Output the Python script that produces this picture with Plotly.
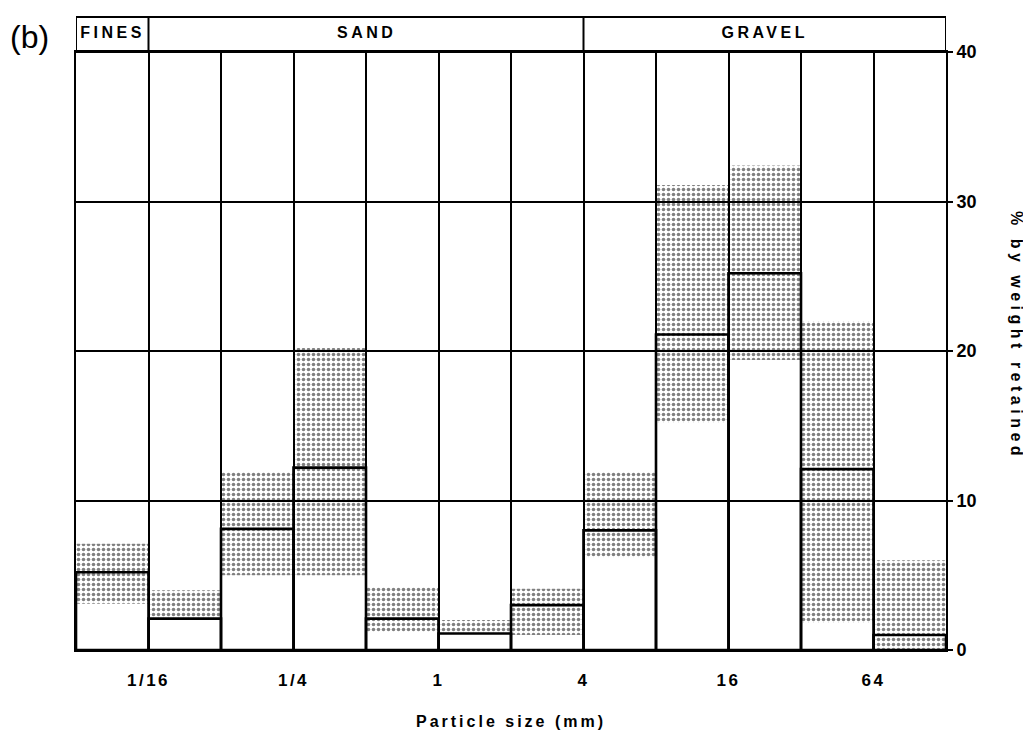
import plotly.graph_objects as go

# Bins in log2(mm): lower edges from 1/32 mm to 64 mm (each bin one doubling)
bin_lower = [-5, -4, -3, -2, -1, 0, 1, 2, 3, 4, 5, 6]
range_min = [3.1, 2.0, 5.0, 5.0, 1.2, 1.1, 1.0, 6.2, 15.2, 19.4, 1.8, 0.0]
range_max = [7.1, 4.0, 11.9, 20.2, 4.2, 2.0, 4.1, 11.9, 31.1, 32.4, 22.0, 6.0]
mean_val = [5.2, 2.1, 8.1, 12.2, 2.1, 1.1, 3.0, 8.0, 21.1, 25.2, 12.1, 1.0]

tick_pos = [-4, -2, 0, 2, 4, 6]
tick_text = ["1/16", "1/4", "1", "4", "16", "64"]
y_ticks = [0, 10, 20, 30, 40]

header_labels = ["FINES", "SAND", "GRAVEL"]
header_edges = [-5, -4, 2, 7]

centers = [b + 0.5 for b in bin_lower]
FONT = "Liberation Sans, Arial, sans-serif"

fig = go.Figure()
fig.add_trace(go.Bar(
    x=centers, y=[mx - mn for mn, mx in zip(range_min, range_max)], base=range_min,
    width=1,
    marker=dict(color="rgba(0,0,0,0)", line=dict(width=0),
                pattern=dict(shape=".", fgcolor="black", bgcolor="rgba(0,0,0,0)",
                             size=5, solidity=0.4)),
    hoverinfo="skip", showlegend=False))
fig.add_trace(go.Bar(
    x=centers, y=mean_val, width=1,
    marker=dict(color="rgba(0,0,0,0)", line=dict(width=2.6, color="black")),
    showlegend=False))

shapes = [dict(type="rect", xref="x", yref="paper", x0=header_edges[0], x1=header_edges[-1],
               y0=1, y1=1.0585, line=dict(color="black", width=2))]
for e in header_edges[1:-1]:
    shapes.append(dict(type="line", xref="x", yref="paper", x0=e, x1=e, y0=1, y1=1.0585,
                       line=dict(color="black", width=2)))

annotations = []
for lab, a, b in zip(header_labels, header_edges[:-1], header_edges[1:]):
    annotations.append(dict(text=f"<b>{lab}</b>", x=(a + b) / 2, xref="x", y=1.033, yref="paper",
                            xanchor="center", yanchor="middle", showarrow=False,
                            font=dict(size=16, family=FONT, color="black")))
annotations.append(dict(text="(b)", x=-0.053, y=1.025, xref="paper", yref="paper", showarrow=False,
                        xanchor="center", yanchor="middle",
                        font=dict(size=32, family=FONT, color="black")))
annotations.append(dict(text="<b>% by weight retained</b>", x=1.081, y=0.526, xref="paper", yref="paper",
                        showarrow=False, textangle=90, xanchor="center", yanchor="middle",
                        font=dict(size=16, family=FONT, color="black")))

# page body has an 8px default margin; shrink the figure so the plot lands where the reference is
fig.update_layout(
    width=1023, height=722,
    margin=dict(l=68, r=85, t=44, b=80, autoexpand=False),
    paper_bgcolor="white", plot_bgcolor="white",
    barmode="overlay",
    shapes=shapes, annotations=annotations,
    xaxis=dict(range=[-5, 7], tickvals=tick_pos, ticktext=tick_text, automargin=False,
               showgrid=True, gridcolor="black", gridwidth=1.5, zeroline=False,
               minor=dict(dtick=1, tick0=0, showgrid=True, gridcolor="black", gridwidth=1.5),
               showline=True, linecolor="black", linewidth=2, mirror=True,
               ticks="", ticklabelstandoff=14,
               tickfont=dict(size=17, family=FONT, color="black", weight="bold"),
               title=dict(text="<b>Particle size (mm)</b>", standoff=27,
                          font=dict(size=16, family=FONT, color="black"))),
    yaxis=dict(range=[0, 40], tickvals=y_ticks, side="right", automargin=False,
               showgrid=True, gridcolor="black", gridwidth=1.5, zeroline=False,
               showline=True, linecolor="black", linewidth=2, mirror=True,
               ticks="outside", ticklen=5, tickwidth=1.5, tickcolor="black",
               tickfont=dict(size=18, family=FONT, color="black", weight="bold")),
)

spacing_js = """
function sp(sel, v){document.querySelectorAll(sel).forEach(function(e){e.style.letterSpacing=v;});}
sp('.annotation-text', '3.5px');
sp('.xtick text', '2.5px');
sp('.xtitle', '3px');
document.querySelectorAll('.annotation-text').forEach(function(e){
  if (e.textContent === '(b)') { e.style.letterSpacing = '0px'; }
  if (e.textContent.indexOf('weight') >= 0) { e.style.letterSpacing = '4.5px'; }
});
"""

fig.write_html("out.html", post_script=spacing_js)
